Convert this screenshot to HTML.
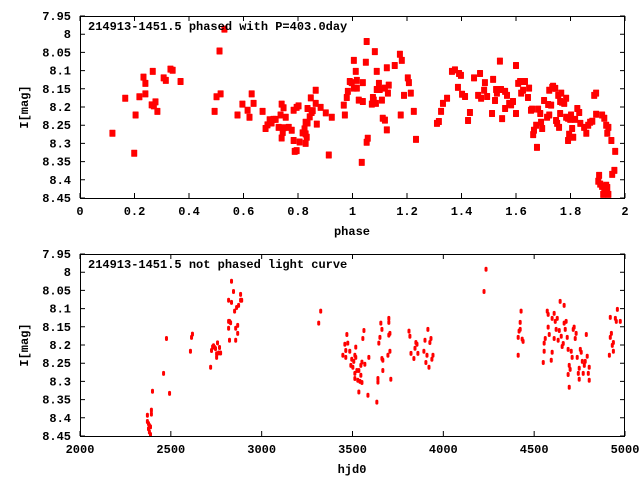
<!DOCTYPE html>
<html><head><meta charset="utf-8"><style>
html,body{margin:0;padding:0;background:#fff;}
svg{display:block;}
text{font-family:"Liberation Mono",monospace;font-weight:bold;font-size:12px;fill:#000;}
</style></head><body>
<svg id="chart" width="640" height="480" xmlns="http://www.w3.org/2000/svg"></svg>
<script>
// Top panel: phased light curve
const phaseValues = [.119,.166,.204,.199,.218,.233,.240,.240,.267,.263,.271,.277,.284,.307,.315,.332,.340,.369,.494,.501,.516,.512,.530,.578,.596,.615,.622,.630,.637,.670,.681,.688,.696,.703,.710,.718,.729,.736,.740,.747,.755,.740,.744,.747,.766,.777,.784,.788,.795,.784,.795,.802,.806,.817,.824,.828,.828,.828,.832,.835,.835,.843,.847,.850,.854,.865,.865,.869,.883,.902,.913,.924,
.968,.972,.979,.983,.990,.997,1.005,1.012,1.005,1.016,1.016,1.023,1.038,1.034,1.038,1.049,1.052,1.052,1.056,1.071,1.075,1.078,1.086,1.082,1.089,1.097,1.089,1.100,1.108,1.111,1.119,1.119,1.126,1.126,1.130,1.133,1.155,1.174,1.181,1.177,1.189,1.203,1.207,1.214,1.225,1.233,1.310,1.317,1.325,1.332,1.347,1.365,1.376,1.391,1.398,1.387,1.402,1.413,1.424,1.431,1.446,1.468,1.486,1.461,1.472,1.483,1.494,1.512,1.516,1.523,1.527,1.530,1.541,1.549,1.545,1.560,1.560,1.567,1.575,1.582,1.589,1.600,1.600,1.608,1.615,1.619,1.626,1.633,1.644,1.648,1.655,1.659,1.663,1.666,1.674,1.677,1.681,1.689,1.692,1.696,1.703,1.714,1.718,1.722,1.729,1.722,1.733,1.736,1.744,1.747,1.751,1.758,1.755,1.762,1.762,1.766,1.769,1.777,1.784,1.784,1.791,1.791,1.795,1.799,1.802,1.806,1.810,1.817,1.825,1.832,1.836,1.850,1.858,1.865,1.872,1.880,1.887,1.894,1.894,1.916,1.924,1.931,1.939,1.935,1.950,1.964,1.961,1.953,1.905,1.902,1.909,1.916,1.920,1.931,1.935,1.939,1.924];
const phaseMags = [8.272,8.176,8.222,8.327,8.172,8.118,8.135,8.164,8.102,8.194,8.197,8.186,8.212,8.120,8.127,8.096,8.099,8.130,8.212,8.172,8.164,8.046,7.986,8.222,8.192,8.209,8.228,8.164,8.190,8.212,8.259,8.249,8.235,8.244,8.234,8.234,8.256,8.222,8.192,8.202,8.228,8.285,8.270,8.257,8.256,8.264,8.292,8.322,8.320,8.209,8.201,8.197,8.296,8.271,8.260,8.242,8.274,8.300,8.283,8.244,8.204,8.227,8.175,8.215,8.210,8.154,8.190,8.247,8.201,8.216,8.332,8.228,
8.195,8.222,8.174,8.157,8.130,8.133,8.072,8.102,8.148,8.148,8.127,8.181,8.185,8.352,8.133,8.077,8.020,8.297,8.286,8.192,8.174,8.181,8.190,8.048,8.102,8.135,8.152,8.152,8.181,8.231,8.236,8.148,8.092,8.263,8.162,8.140,8.086,8.055,8.072,8.222,8.168,8.120,8.133,8.162,8.212,8.289,8.245,8.240,8.212,8.190,8.176,8.102,8.098,8.108,8.113,8.146,8.165,8.171,8.237,8.215,8.120,8.108,8.133,8.168,8.176,8.154,8.171,8.218,8.124,8.182,8.152,8.162,8.074,8.232,8.152,8.157,8.204,8.168,8.190,8.194,8.185,8.218,8.086,8.135,8.130,8.162,8.154,8.130,8.174,8.148,8.209,8.206,8.276,8.264,8.250,8.311,8.206,8.218,8.242,8.259,8.182,8.228,8.193,8.222,8.195,8.154,8.146,8.143,8.149,8.237,8.245,8.256,8.168,8.185,8.218,8.162,8.187,8.190,8.176,8.228,8.292,8.231,8.275,8.234,8.222,8.259,8.283,8.234,8.204,8.215,8.245,8.256,8.272,8.250,8.242,8.239,8.168,8.162,8.220,8.222,8.231,8.250,8.256,8.272,8.292,8.322,8.374,8.385,8.388,8.404,8.412,8.418,8.440,8.415,8.421,8.440,8.432];
const phaseTicks = ["0","0.2","0.4","0.6","0.8","1","1.2","1.4","1.6","1.8","2"];
const magTicks = ["7.95","8","8.05","8.1","8.15","8.2","8.25","8.3","8.35","8.4","8.45"];

// Bottom panel: unphased light curve
const hjdValues = [2371,2371,2377,2382,2388,2377,2382,2388,2393,2393,2399,2460,2476,2493,2608,2614,2619,2719,2724,2730,2735,2741,2746,2752,2752,2757,2763,2768,2774,2818,2818,2823,2829,2818,2823,2834,2834,2845,2851,2857,2857,2862,2868,2873,2868,2884,2884,2890,3314,3325,
3447,3458,3463,3463,3469,3474,3485,3496,3502,3491,3507,3513,3513,3513,3518,3518,3524,3529,3535,3535,3541,3546,3546,3552,3552,3557,3563,3568,3585,3590,3634,3640,3640,3645,3651,3656,3662,3662,3667,3667,3695,3700,3700,3700,3706,3706,3711,3811,3816,3822,3838,3844,3849,3855,3860,3893,3899,3904,3910,3915,3921,3926,3932,3937,3943,4224,4235,4412,4412,4417,4423,4428,4423,4434,4439,4550,4555,4555,4561,4572,4577,4577,4583,4594,4599,4599,4610,4610,4616,4621,4627,4632,4638,4643,4649,4654,4660,4665,4665,4671,4676,4682,4687,4687,4693,4693,4698,4704,4709,4715,4720,4726,4731,4737,4743,4748,4748,4754,4759,4765,4770,4776,4781,4787,4792,4798,4803,4803,4914,4919,4919,4925,4930,4936,4936,4947,4952,4958,4974];
const hjdMags = [8.393,8.410,8.416,8.421,8.425,8.430,8.439,8.446,8.379,8.390,8.327,8.278,8.182,8.333,8.217,8.179,8.170,8.261,8.215,8.205,8.202,8.207,8.210,8.224,8.234,8.194,8.222,8.207,8.222,8.077,8.135,8.135,8.139,8.154,8.187,8.083,8.025,8.053,8.107,8.187,8.154,8.097,8.146,8.091,8.168,8.061,8.077,8.077,8.140,8.107,
8.228,8.198,8.234,8.215,8.171,8.195,8.217,8.239,8.261,8.256,8.245,8.228,8.278,8.292,8.234,8.206,8.270,8.297,8.329,8.270,8.300,8.256,8.283,8.303,8.247,8.182,8.160,8.253,8.338,8.234,8.357,8.292,8.302,8.195,8.179,8.140,8.157,8.237,8.242,8.270,8.228,8.127,8.138,8.173,8.168,8.217,8.294,8.162,8.176,8.223,8.237,8.209,8.193,8.198,8.223,8.217,8.187,8.248,8.228,8.157,8.261,8.193,8.182,8.239,8.228,8.053,7.992,8.228,8.179,8.162,8.138,8.107,8.157,8.184,8.190,8.248,8.217,8.195,8.182,8.107,8.116,8.151,8.171,8.242,8.127,8.220,8.113,8.182,8.135,8.157,8.127,8.187,8.160,8.080,8.176,8.204,8.196,8.091,8.140,8.157,8.135,8.179,8.212,8.281,8.316,8.256,8.267,8.217,8.234,8.157,8.151,8.182,8.168,8.234,8.278,8.294,8.264,8.212,8.220,8.245,8.278,8.256,8.245,8.171,8.231,8.278,8.297,8.261,8.228,8.124,8.179,8.168,8.201,8.217,8.193,8.127,8.135,8.102,8.135];
const hjdTicks = ["2000","2500","3000","3500","4000","4500","5000"];

const NS = "http://www.w3.org/2000/svg";
const svg = document.getElementById("chart");
function mk(tag, attrs, parent) {
  const e = document.createElementNS(NS, tag);
  for (const k in attrs) e.setAttribute(k, attrs[k]);
  (parent || svg).appendChild(e);
  return e;
}
const L = 80, R = 625;

function panel(cfg) {
  const g = mk("g", {});
  
  
  const T = cfg.top, B = cfg.bottom;
  const xs = v => L + (v - cfg.xmin) / (cfg.xmax - cfg.xmin) * (R - L);
  const ys = v => T + (v - 7.95) / 0.5 * (B - T);
  // ticks
  cfg.xTicks.forEach(lab => {
    const x = xs(parseFloat(lab));
    const t = mk("path", {d: `M${x},${B}v-5M${x},${T}v5`, stroke: "#000", "stroke-width": 1}, g);
    
    
    const tx = mk("text", {x: x, y: B + 17, "text-anchor": "middle"}, g);
    tx.textContent = lab;
    
    
  });
  magTicks.forEach(lab => {
    const y = ys(parseFloat(lab));
    const t = mk("path", {d: `M${L},${y}h5M${R},${y}h-5`, stroke: "#000", "stroke-width": 1}, g);
    
    
    const tx = mk("text", {x: 71, y: y + 4, "text-anchor": "end"}, g);
    tx.textContent = lab;
    
    
  });
  // points
  cfg.xv.forEach((v, i) => {
    const x = xs(v), y = ys(cfg.yv[i]);
    const p = mk("rect", {x: x - cfg.w / 2, y: y - cfg.h / 2, width: cfg.w, height: cfg.h, rx: cfg.rx, fill: "#ff0000"}, g);
    
    
  });
  const fr = mk("rect", {x: L + 0.5, y: T + 0.5, width: R - L - 1, height: B - T, fill: "none", stroke: "#000", "stroke-width": 1}, g);
  
  
  const ti = mk("text", {x: 88, y: T + 14}, g);
  ti.textContent = cfg.title;
  
  
  const xl = mk("text", {x: 352, y: B + 37, "text-anchor": "middle"}, g);
  xl.textContent = cfg.xlabel;
  
  
  const cy = (T + B) / 2;
  const yl = mk("text", {x: 0, y: 0, "text-anchor": "middle", transform: `translate(28,${cy}) rotate(-90)`}, g);
  yl.textContent = "I[mag]";
  
  
}

panel({name: "phased-panel", top: 16, bottom: 198, xmin: 0, xmax: 2, xTicks: phaseTicks,
  xv: phaseValues, yv: phaseMags, w: 6, h: 7, rx: 0.5,
  title: "214913-1451.5 phased with P=403.0day", xlabel: "phase"});
panel({name: "unphased-panel", top: 254, bottom: 436, xmin: 2000, xmax: 5000, xTicks: hjdTicks,
  xv: hjdValues, yv: hjdMags, w: 3, h: 5, rx: 1.5,
  title: "214913-1451.5 not phased light curve", xlabel: "hjd0"});
</script>
</body></html>
